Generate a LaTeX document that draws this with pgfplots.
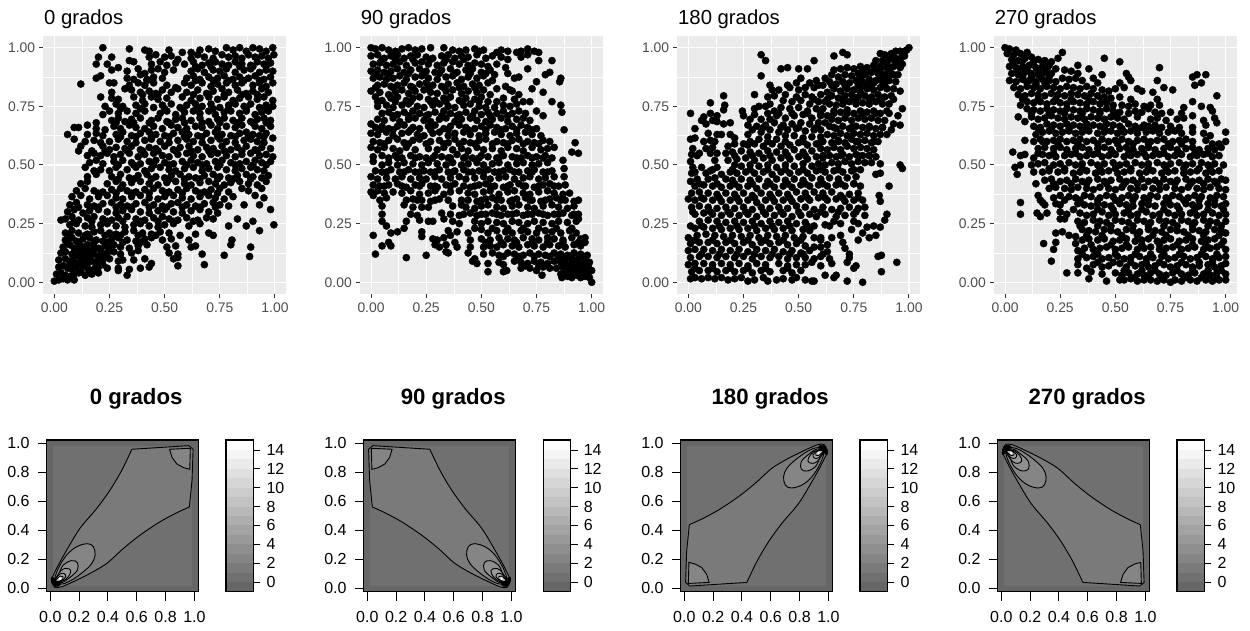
\documentclass[border=0pt]{standalone}
\usepackage{pgfplots}
\pgfplotsset{compat=1.18}
\usepackage{fontspec}
\setmainfont{Liberation Sans}
\definecolor{bgc}{HTML}{EBEBEB}
\definecolor{tk}{HTML}{333333}
\definecolor{lb}{HTML}{4D4D4D}
\definecolor{a0}{gray}{.40}\definecolor{a1}{gray}{.44}\definecolor{a2}{gray}{.48}\definecolor{a3}{gray}{.52}
\definecolor{a4}{gray}{.56}\definecolor{a5}{gray}{.60}\definecolor{a6}{gray}{.64}\definecolor{a7}{gray}{.68}
\definecolor{a8}{gray}{.72}\definecolor{a9}{gray}{.76}\definecolor{a10}{gray}{.80}\definecolor{a11}{gray}{.84}
\definecolor{a12}{gray}{.88}\definecolor{a13}{gray}{.92}\definecolor{a14}{gray}{.96}\definecolor{a15}{gray}{1}
\pgfplotsset{
 every axis title shift=0pt,
 top/.style={scale only axis,width=242.7pt,height=258pt,xmin=-.05,xmax=1.05,ymin=-.05,ymax=1.05,
  axis background/.style={fill=bgc},axis line style={draw=none},
  tick align=outside,tick pos=left,major tick length=4pt,tick style={color=tk,line width=1pt},
  grid=both,major grid style={white,line width=1.05pt},minor grid style={white,line width=.55pt},
  minor tick num=1,minor tick length=0pt,
  xtick={0,.25,.5,.75,1},ytick={0,.25,.5,.75,1},
  xticklabels={0.00,0.25,0.50,0.75,1.00},yticklabels={0.00,0.25,0.50,0.75,1.00},
  tick label style={font=\fontsize{13.9}{16}\selectfont,text=lb,inner sep=0pt},
  xticklabel style={yshift=-4.5pt},yticklabel style={xshift=-4pt},
  title style={at={(0,1)},anchor=base west,yshift=11.3pt,xshift=.7pt,inner sep=0pt,font=\fontsize{20.3}{24}\selectfont},
 },
 pts/.style={only marks,mark=*,mark size=3.6pt,black,mark options={draw=black,fill=black}},
 bot/.style={scale only axis,width=152pt,height=151.7pt,xmin=-.025,xmax=1.03,ymin=-.023,ymax=1.023,
  axis on top,axis line style={black,line width=1.1pt},
  tick align=outside,tick pos=left,major tick length=9pt,tick style={black,line width=.9pt},
  xtick={0,.2,.4,.6,.8,1},ytick={0,.2,.4,.6,.8,1},
  xticklabels={0.0,0.2,0.4,0.6,0.8,1.0},yticklabels={0.0,0.2,0.4,0.6,0.8,1.0},
  tick label style={font=\fontsize{16}{18}\selectfont,text=black,inner sep=0pt},
  xticklabel style={yshift=-10pt},yticklabel style={xshift=-8pt},
  title style={at={(.5,1)},anchor=base,yshift=35pt,xshift=13.5pt,inner sep=0pt,font=\fontsize{22.2}{26}\selectfont\bfseries},
 },
 cb/.style={scale only axis,width=27.3pt,height=151.7pt,xmin=0,xmax=1,ymin=-1.03,ymax=15.06,
  axis on top,axis line style={black,line width=1.1pt},
  tick align=outside,xtick=\empty,ytick={0,2,4,6,8,10,12,14},yticklabels={0,2,4,6,8,10,12,14},ytick pos=right,major tick length=7pt,tick style={black,line width=.9pt},
  tick label style={font=\fontsize{16}{18}\selectfont,text=black,inner sep=0pt},yticklabel style={xshift=6pt},
 },
 ct/.style={draw=black,line width=.9pt},
 sm/.style={draw=black,line width=.9pt,smooth,tension=.5},
 el/.style={draw=black,line width=.9pt,smooth cycle,tension=.6},
}
\newcommand{\cbar}[1]{\begin{axis}[cb,at={(#1pt,39.3pt)},anchor=south west]
\addplot[fill=a0,draw=none] coordinates {(0,-1.03)(1,-1.03)(1,0)(0,0)} --cycle;
\addplot[fill=a1,draw=none] coordinates {(0,0)(1,0)(1,1)(0,1)} --cycle;
\addplot[fill=a2,draw=none] coordinates {(0,1)(1,1)(1,2)(0,2)} --cycle;
\addplot[fill=a3,draw=none] coordinates {(0,2)(1,2)(1,3)(0,3)} --cycle;
\addplot[fill=a4,draw=none] coordinates {(0,3)(1,3)(1,4)(0,4)} --cycle;
\addplot[fill=a5,draw=none] coordinates {(0,4)(1,4)(1,5)(0,5)} --cycle;
\addplot[fill=a6,draw=none] coordinates {(0,5)(1,5)(1,6)(0,6)} --cycle;
\addplot[fill=a7,draw=none] coordinates {(0,6)(1,6)(1,7)(0,7)} --cycle;
\addplot[fill=a8,draw=none] coordinates {(0,7)(1,7)(1,8)(0,8)} --cycle;
\addplot[fill=a9,draw=none] coordinates {(0,8)(1,8)(1,9)(0,9)} --cycle;
\addplot[fill=a10,draw=none] coordinates {(0,9)(1,9)(1,10)(0,10)} --cycle;
\addplot[fill=a11,draw=none] coordinates {(0,10)(1,10)(1,11)(0,11)} --cycle;
\addplot[fill=a12,draw=none] coordinates {(0,11)(1,11)(1,12)(0,12)} --cycle;
\addplot[fill=a13,draw=none] coordinates {(0,12)(1,12)(1,13)(0,13)} --cycle;
\addplot[fill=a14,draw=none] coordinates {(0,13)(1,13)(1,14)(0,14)} --cycle;
\addplot[fill=a15,draw=none] coordinates {(0,14)(1,14)(1,15.06)(0,15.06)} --cycle;
\end{axis}}
\newcommand{\bgs}{
\addplot[fill=a0,draw=none] coordinates {(-.03,-.03)(1.04,-.03)(1.04,1.03)(-.03,1.03)} --cycle;
\addplot[fill=a1,draw=none] coordinates {(.016,.016)(.984,.016)(.984,.984)(.016,.984)} --cycle;
}
\begin{document}
\begin{tikzpicture}[x=1pt,y=1pt]
\path[use as bounding box] (0,0) rectangle (1250,631);
\begin{axis}[top,at={(43.3pt,337pt)},anchor=south west,title={0 grados}]
\addplot[pts] table {
.22 1
.34 .995
.41 .99
.43 .985
.52 .99
.58 .98
.62 .98
.66 .99
.70 .995
.73 .985
.78 1
.81 .99
.84 1
.87 .985
.90 1
.93 .995
.96 .985
.99 1
.43 .96
.46 .97
.50 .96
.53 .965
.56 .95
.62 .955
.65 .97
.68 .96
.72 .955
.76 .97
.79 .96
.82 .965
.85 .955
.88 .97
.91 .96
.94 .965
.97 .955
.995 .97
.26 .96
.20 .96
.19 .93
.24 .93
.34 .945
.36 .94
.44 .93
.48 .94
.51 .925
.55 .935
.59 .93
.63 .94
.67 .925
.70 .935
.73 .94
.76 .93
.79 .925
.82 .94
.85 .93
.89 .925
.92 .94
.95 .93
.98 .935
.29 .915
.26 .905
.33 .90
.38 .91
.41 .89
.44 .905
.47 .91
.50 .895
.54 .905
.62 .90
.65 .91
.68 .895
.72 .905
.75 .90
.78 .91
.82 .895
.86 .905
.89 .91
.93 .895
.96 .905
.99 .90
.19 .87
.21 .88
.33 .87
.36 .865
.39 .885
.42 .865
.45 .875
.49 .87
.60 .87
.63 .88
.66 .865
.70 .875
.74 .87
.77 .88
.81 .865
.84 .875
.88 .87
.91 .88
.95 .865
.98 .875
.12 .845
.25 .85
.27 .85
.34 .84
.38 .85
.41 .84
.45 .85
.51 .84
.55 .83
.59 .85
.62 .84
.67 .85
.71 .835
.74 .845
.78 .85
.82 .84
.85 .85
.90 .84
.93 .85
.96 .835
.99 .85
.26 .81
.32 .825
.35 .82
.39 .81
.43 .815
.46 .805
.49 .82
.53 .81
.56 .825
.60 .81
.65 .82
.69 .805
.72 .815
.76 .825
.79 .81
.83 .82
.87 .805
.90 .815
.94 .825
.97 .81
.21 .79
.26 .785
.29 .78
.36 .79
.40 .775
.44 .79
.47 .78
.51 .785
.58 .79
.62 .775
.66 .785
.70 .79
.74 .78
.77 .79
.81 .775
.84 .785
.88 .79
.92 .78
.95 .79
.99 .775
.23 .75
.28 .76
.31 .75
.37 .755
.41 .76
.45 .745
.49 .755
.53 .76
.57 .745
.60 .755
.64 .76
.67 .75
.71 .76
.75 .745
.79 .755
.82 .76
.86 .75
.89 .76
.93 .745
.96 .755
.99 .75
.22 .715
.25 .73
.29 .72
.33 .73
.37 .72
.41 .73
.48 .72
.51 .73
.55 .715
.59 .725
.63 .73
.66 .72
.70 .73
.73 .715
.77 .725
.80 .73
.84 .72
.87 .73
.91 .715
.94 .725
.97 .73
.15 .67
.19 .68
.26 .69
.29 .70
.32 .685
.35 .695
.39 .70
.44 .69
.47 .70
.51 .685
.55 .695
.58 .70
.62 .69
.66 .70
.70 .685
.74 .695
.77 .70
.81 .69
.85 .70
.89 .685
.92 .695
.95 .70
.98 .69
.09 .66
.11 .66
.19 .655
.23 .65
.27 .665
.30 .655
.34 .67
.37 .66
.41 .655
.45 .665
.49 .655
.53 .67
.56 .66
.60 .655
.64 .665
.67 .66
.71 .67
.74 .655
.78 .665
.82 .66
.85 .67
.91 .665
.94 .655
.98 .665
.06 .63
.15 .63
.19 .635
.22 .625
.28 .63
.31 .64
.35 .625
.39 .635
.43 .64
.46 .63
.50 .625
.54 .635
.58 .64
.61 .63
.65 .625
.69 .635
.73 .64
.76 .63
.80 .625
.84 .635
.87 .64
.90 .63
.93 .625
.96 .635
.99 .615
.09 .61
.14 .60
.18 .605
.21 .595
.25 .60
.29 .61
.33 .60
.37 .595
.41 .605
.44 .61
.48 .60
.52 .595
.56 .605
.60 .61
.63 .60
.67 .595
.71 .605
.75 .61
.78 .60
.82 .595
.86 .605
.89 .61
.92 .60
.95 .595
.12 .58
.17 .56
.22 .58
.25 .565
.28 .575
.32 .57
.35 .58
.39 .565
.43 .575
.46 .57
.50 .58
.54 .565
.57 .575
.61 .58
.65 .565
.69 .575
.72 .57
.76 .58
.80 .565
.83 .575
.87 .58
.91 .565
.94 .575
.98 .57
.11 .56
.15 .54
.18 .55
.21 .54
.24 .55
.27 .535
.30 .545
.34 .55
.38 .535
.41 .545
.45 .55
.49 .54
.52 .535
.56 .545
.60 .55
.63 .54
.67 .535
.71 .545
.74 .55
.78 .54
.82 .535
.85 .545
.89 .55
.93 .54
.96 .545
.99 .535
.16 .51
.19 .52
.22 .505
.27 .515
.31 .52
.35 .51
.39 .505
.43 .515
.46 .52
.50 .51
.54 .505
.58 .515
.62 .52
.65 .51
.69 .505
.73 .515
.76 .52
.80 .51
.84 .505
.87 .515
.91 .52
.94 .51
.98 .515
.14 .49
.18 .475
.21 .48
.25 .475
.28 .49
.33 .48
.37 .49
.41 .475
.44 .485
.48 .49
.52 .48
.55 .475
.59 .485
.63 .49
.67 .475
.70 .485
.74 .49
.78 .48
.82 .475
.85 .485
.89 .49
.92 .48
.95 .475
.15 .45
.19 .46
.26 .45
.30 .46
.34 .445
.38 .455
.42 .46
.46 .45
.50 .445
.53 .455
.57 .46
.61 .45
.64 .445
.68 .455
.72 .46
.75 .45
.79 .445
.83 .455
.87 .46
.90 .45
.94 .445
.97 .455
.12 .42
.15 .43
.24 .42
.28 .43
.31 .415
.35 .425
.39 .43
.43 .42
.47 .415
.51 .425
.55 .43
.59 .42
.62 .415
.66 .425
.70 .43
.73 .42
.77 .415
.80 .425
.84 .43
.88 .42
.92 .415
.96 .43
.10 .39
.14 .40
.18 .39
.22 .385
.26 .395
.30 .40
.33 .39
.37 .385
.41 .395
.45 .40
.49 .39
.52 .385
.56 .395
.60 .40
.64 .39
.68 .385
.71 .395
.75 .40
.79 .385
.85 .40
.88 .39
.94 .40
.08 .365
.12 .37
.16 .355
.20 .365
.24 .37
.28 .36
.31 .355
.35 .365
.39 .37
.43 .36
.47 .355
.50 .365
.54 .37
.58 .36
.62 .355
.66 .365
.70 .37
.73 .36
.77 .355
.81 .365
.91 .37
.95 .36
.07 .33
.10 .34
.15 .33
.18 .325
.22 .335
.26 .34
.30 .33
.33 .325
.37 .335
.41 .34
.45 .33
.49 .325
.53 .335
.56 .34
.60 .33
.64 .325
.68 .335
.72 .34
.75 .33
.79 .325
.86 .33
.93 .33
.06 .30
.09 .31
.13 .295
.16 .305
.20 .31
.24 .30
.28 .295
.31 .305
.35 .31
.39 .30
.43 .295
.47 .305
.50 .31
.54 .30
.58 .295
.62 .305
.66 .31
.70 .30
.74 .295
.98 .31
.03 .265
.05 .27
.08 .28
.11 .265
.15 .275
.18 .28
.22 .27
.26 .265
.29 .275
.33 .28
.37 .27
.41 .265
.45 .275
.49 .28
.52 .27
.56 .265
.60 .275
.65 .265
.69 .275
.72 .27
.83 .27
.07 .245
.10 .25
.14 .24
.17 .235
.21 .245
.24 .25
.28 .24
.32 .235
.36 .245
.39 .25
.43 .24
.47 .235
.50 .245
.54 .25
.61 .24
.66 .25
.79 .24
.87 .24
.90 .26
.995 .245
.05 .21
.08 .22
.11 .21
.15 .205
.18 .215
.21 .22
.25 .21
.28 .205
.32 .215
.36 .22
.40 .21
.44 .205
.48 .215
.52 .21
.57 .20
.64 .205
.70 .21
.72 .20
.93 .22
.05 .18
.08 .19
.10 .175
.13 .185
.16 .19
.19 .18
.22 .175
.26 .185
.29 .19
.33 .18
.37 .175
.41 .185
.44 .19
.49 .18
.53 .185
.61 .18
.805 .18
.04 .15
.07 .16
.09 .145
.12 .155
.15 .16
.18 .15
.20 .145
.23 .155
.27 .16
.30 .15
.34 .145
.38 .155
.42 .16
.51 .15
.55 .155
.62 .15
.64 .155
.89 .15
.80 .16
.03 .125
.05 .13
.08 .12
.10 .115
.13 .125
.15 .13
.18 .12
.21 .115
.24 .125
.27 .13
.30 .12
.35 .125
.38 .135
.52 .125
.56 .12
.67 .12
.02 .095
.05 .10
.07 .09
.09 .085
.12 .095
.14 .10
.17 .09
.19 .085
.22 .095
.25 .10
.29 .09
.31 .095
.36 .095
.41 .10
.54 .10
.56 .105
.885 .11
.77 .115
.02 .065
.04 .07
.06 .06
.08 .055
.10 .065
.13 .07
.15 .06
.18 .055
.20 .065
.24 .06
.29 .06
.39 .06
.44 .08
.43 .065
.56 .07
.68 .075
.01 .035
.03 .04
.05 .03
.07 .025
.09 .035
.11 .04
.14 .03
.17 .035
.20 .04
.33 .03
.29 .05
.34 .055
0 .005
.02 .01
.04 .015
.06 .01
.09 .01
.07 .075
.11 .08
.15 .08
.19 .07
.22 .075
.09 .11
.12 .11
.16 .11
.20 .105
.23 .11
.11 .14
.14 .145
.17 .135
.21 .135
.25 .145
.12 .045
.16 .05
.64 .92
.71 .92
.78 .92
.84 .92
.90 .92
.96 .92
.42 .86
.64 .86
.72 .86
.79 .86
.86 .86
.93 .86
.40 .80
.47 .80
.63 .80
.70 .80
.77 .80
.85 .80
.92 .80
.30 .74
.39 .74
.50 .74
.58 .74
.65 .74
.72 .74
.79 .74
.87 .74
.94 .74
.28 .68
.36 .68
.43 .68
.52 .68
.59 .68
.67 .68
.75 .68
.83 .68
.90 .68
.96 .68
.30 .62
.37 .62
.44 .62
.52 .62
.59 .62
.67 .62
.74 .62
.82 .62
.88 .62
.95 .62
.23 .56
.33 .56
.40 .56
.47 .56
.55 .56
.62 .56
.70 .56
.77 .56
.85 .56
.92 .56
.29 .50
.36 .50
.45 .50
.52 .50
.60 .50
.67 .50
.75 .50
.82 .50
.90 .50
.96 .50
.29 .44
.36 .44
.44 .44
.52 .44
.59 .44
.66 .44
.74 .44
.81 .44
.89 .44
.20 .38
.28 .38
.35 .38
.43 .38
.51 .38
.58 .38
.66 .38
.74 .38
.11 .32
.20 .32
.28 .32
.35 .32
.43 .32
.51 .32
.58 .32
.66 .32
.73 .32
.09 .26
.17 .26
.24 .26
.31 .26
.39 .26
.47 .26
.54 .26
.63 .26
.07 .20
.14 .20
.23 .20
.30 .20
.38 .20
.46 .20
.06 .17
.11 .17
.18 .17
.24 .17
.31 .17
.39 .17
};
\end{axis}
\begin{axis}[top,at={(360pt,337pt)},anchor=south west,title={90 grados}]
\addplot[pts] table {
0 1
.02 .995
.05 1
.08 .99
.11 .985
.14 .995
.17 1
.20 .99
.23 .995
.27 1
.33 1
.37 .99
.40 .985
.43 .99
.47 .995
.49 .985
.51 .99
.57 .98
.59 .99
.62 .985
.66 .98
.68 .985
.71 .995
.74 .985
.76 .98
0 .965
.03 .97
.06 .955
.09 .965
.12 .97
.15 .955
.18 .965
.21 .97
.25 .96
.28 .955
.32 .965
.35 .97
.38 .955
.41 .965
.44 .96
.48 .97
.52 .955
.55 .965
.59 .96
.62 .95
.68 .96
.71 .97
.76 .945
.82 .945
.01 .93
.04 .935
.07 .925
.10 .93
.13 .94
.16 .925
.20 .935
.23 .94
.26 .93
.30 .925
.33 .935
.37 .94
.40 .93
.44 .925
.47 .935
.50 .93
.53 .92
.57 .93
.61 .915
.71 .91
.81 .895
.79 .885
0 .90
.03 .905
.06 .895
.09 .90
.12 .91
.15 .895
.18 .905
.22 .91
.25 .90
.29 .895
.32 .905
.36 .91
.39 .895
.43 .905
.46 .91
.50 .895
.54 .905
.56 .885
.62 .89
.65 .87
.67 .875
.86 .87
.855 .855
.01 .87
.04 .875
.07 .865
.10 .87
.13 .88
.16 .865
.20 .875
.23 .88
.26 .87
.30 .865
.34 .875
.37 .88
.41 .865
.44 .875
.48 .87
.51 .88
.55 .86
.75 .855
.03 .84
.06 .845
.09 .835
.12 .84
.15 .85
.18 .835
.22 .845
.25 .85
.28 .84
.32 .835
.35 .845
.39 .85
.42 .835
.46 .845
.49 .84
.53 .85
.57 .825
.61 .835
.63 .82
.73 .825
.78 .81
0 .815
.04 .81
.08 .80
.11 .81
.14 .82
.17 .805
.20 .815
.24 .82
.27 .81
.30 .805
.34 .815
.37 .82
.41 .805
.44 .815
.48 .81
.51 .82
.54 .80
.60 .785
.64 .815
.67 .80
.02 .79
.05 .775
.09 .785
.12 .79
.16 .775
.19 .785
.22 .79
.26 .78
.29 .775
.33 .785
.36 .79
.40 .775
.43 .785
.47 .78
.50 .79
.53 .77
.57 .77
.65 .78
.82 .77
.03 .75
.07 .755
.10 .745
.14 .755
.17 .76
.21 .75
.24 .745
.28 .755
.31 .76
.35 .75
.38 .745
.42 .755
.45 .76
.49 .75
.52 .745
.56 .745
.60 .755
.63 .75
.66 .76
.69 .77
.72 .77
.86 .755
.05 .72
.08 .725
.12 .715
.15 .725
.19 .73
.22 .72
.26 .715
.29 .725
.33 .73
.36 .72
.40 .715
.43 .725
.47 .73
.50 .715
.53 .725
.57 .72
.60 .73
.64 .72
.67 .73
.70 .72
.75 .73
.865 .725
.03 .695
.06 .69
.10 .70
.13 .685
.17 .695
.20 .70
.24 .69
.27 .685
.31 .695
.34 .70
.38 .685
.41 .695
.45 .70
.48 .69
.52 .685
.55 .695
.59 .70
.62 .685
.66 .695
.69 .70
.72 .69
.78 .71
0 .675
.02 .66
.05 .665
.08 .655
.12 .665
.15 .67
.19 .66
.22 .655
.26 .665
.29 .67
.33 .655
.36 .665
.40 .67
.43 .66
.47 .655
.50 .665
.54 .67
.57 .66
.61 .655
.64 .665
.68 .67
.71 .66
.75 .655
.875 .65
0 .635
.03 .63
.07 .64
.10 .625
.14 .635
.17 .64
.21 .63
.24 .625
.28 .635
.31 .64
.35 .625
.38 .635
.42 .64
.45 .63
.49 .625
.52 .635
.56 .64
.59 .63
.63 .625
.66 .635
.70 .64
.73 .63
.77 .625
.01 .60
.04 .595
.08 .605
.12 .61
.15 .595
.19 .605
.22 .61
.27 .60
.31 .605
.35 .595
.38 .61
.42 .60
.45 .595
.49 .605
.52 .61
.57 .60
.60 .595
.64 .605
.67 .61
.71 .60
.74 .595
.78 .605
.81 .60
.925 .595
.0 .575
.03 .565
.06 .575
.10 .57
.13 .56
.16 .575
.20 .565
.26 .57
.30 .565
.33 .575
.37 .565
.41 .57
.44 .56
.48 .575
.51 .565
.55 .57
.59 .56
.62 .575
.66 .57
.69 .56
.73 .575
.77 .565
.80 .57
.83 .575
.01 .535
.05 .54
.08 .53
.11 .54
.14 .53
.18 .54
.22 .535
.25 .53
.29 .54
.32 .535
.36 .53
.39 .545
.43 .535
.46 .53
.50 .54
.53 .535
.57 .53
.60 .54
.64 .535
.68 .53
.71 .54
.75 .535
.79 .54
.82 .53
.91 .555
.94 .55
.01 .515
.05 .50
.08 .51
.12 .50
.15 .51
.19 .505
.23 .50
.26 .51
.30 .505
.34 .50
.37 .51
.41 .50
.44 .505
.48 .51
.51 .50
.55 .505
.58 .51
.62 .50
.66 .505
.69 .51
.73 .50
.76 .505
.80 .51
.87 .52
.02 .475
.05 .47
.09 .48
.13 .47
.17 .48
.20 .47
.24 .475
.27 .47
.31 .48
.35 .47
.38 .475
.42 .48
.46 .47
.49 .475
.53 .48
.56 .47
.60 .475
.63 .48
.67 .47
.71 .475
.74 .48
.78 .47
.82 .475
.875 .485
0 .45
.03 .44
.07 .445
.11 .44
.14 .45
.18 .44
.22 .445
.25 .44
.29 .45
.32 .44
.36 .445
.40 .45
.43 .44
.47 .445
.51 .45
.54 .44
.58 .445
.61 .45
.65 .44
.69 .445
.72 .45
.76 .44
.79 .445
.83 .45
.875 .45
.01 .415
.04 .41
.08 .415
.12 .42
.16 .405
.20 .415
.23 .42
.27 .41
.30 .405
.34 .415
.38 .42
.42 .41
.45 .405
.49 .415
.52 .42
.56 .41
.60 .405
.63 .415
.67 .42
.70 .41
.74 .405
.78 .415
.81 .42
.85 .41
.88 .415
0 .385
.03 .39
.06 .38
.10 .385
.14 .38
.18 .39
.22 .375
.26 .38
.29 .39
.33 .375
.36 .385
.40 .39
.44 .38
.47 .375
.51 .385
.54 .39
.58 .375
.62 .385
.65 .39
.69 .38
.72 .375
.76 .385
.80 .39
.83 .38
.87 .375
.90 .38
.01 .37
.04 .35
.07 .36
.16 .35
.19 .355
.23 .35
.27 .345
.31 .355
.35 .35
.44 .35
.48 .345
.52 .355
.55 .36
.59 .35
.63 .345
.66 .355
.70 .36
.73 .35
.77 .345
.81 .355
.84 .36
.88 .35
.92 .345
.94 .35
.05 .325
.15 .33
.19 .32
.23 .32
.26 .32
.37 .325
.41 .33
.43 .32
.47 .315
.50 .325
.53 .33
.57 .32
.60 .315
.64 .325
.67 .33
.71 .32
.74 .315
.78 .325
.82 .33
.85 .32
.89 .315
.92 .325
.05 .29
.18 .29
.21 .285
.32 .295
.36 .29
.40 .285
.45 .295
.48 .285
.52 .29
.55 .295
.59 .285
.62 .29
.66 .295
.69 .285
.73 .29
.76 .295
.80 .285
.83 .29
.87 .295
.91 .285
.94 .29
.05 .26
.07 .24
.16 .26
.22 .265
.26 .26
.28 .26
.33 .27
.37 .26
.40 .25
.47 .26
.50 .25
.53 .26
.57 .255
.60 .25
.64 .26
.67 .255
.71 .25
.74 .26
.78 .255
.82 .25
.85 .26
.89 .255
.93 .26
.94 .27
.09 .21
.12 .215
.15 .23
.23 .215
.23 .195
.35 .22
.39 .215
.44 .21
.50 .225
.53 .21
.57 .22
.61 .215
.64 .21
.68 .22
.71 .215
.75 .21
.79 .22
.82 .215
.86 .21
.90 .22
.93 .21
.01 .20
.28 .185
.30 .18
.33 .19
.36 .20
.45 .18
.50 .185
.54 .18
.58 .19
.62 .185
.65 .18
.69 .19
.73 .185
.76 .18
.80 .19
.83 .185
.87 .18
.91 .19
.95 .185
.97 .19
.05 .155
.08 .17
.09 .155
.29 .16
.31 .15
.34 .16
.38 .17
.39 .15
.45 .15
.51 .15
.54 .155
.57 .15
.60 .16
.64 .155
.67 .15
.71 .16
.74 .155
.78 .15
.81 .16
.85 .155
.88 .15
.92 .16
.95 .155
.97 .17
.02 .12
.16 .105
.25 .115
.34 .13
.35 .125
.44 .125
.47 .10
.51 .12
.55 .125
.58 .115
.62 .125
.65 .12
.69 .115
.72 .125
.76 .12
.79 .115
.83 .125
.86 .12
.89 .115
.92 .125
.95 .12
.98 .115
.46 .09
.48 .08
.53 .08
.58 .085
.60 .075
.65 .09
.68 .085
.71 .08
.74 .09
.77 .085
.80 .08
.83 .09
.86 .085
.88 .08
.91 .09
.94 .085
.97 .08
.99 .085
.53 .045
.60 .045
.615 .05
.68 .06
.72 .06
.75 .05
.775 .03
.86 .035
.88 .05
.90 .045
.92 .055
.94 .05
.96 .045
.98 .05
1 .05
.865 .02
.89 .025
.91 .02
.93 .03
.95 .02
.97 .025
.99 .02
1 0
.84 .06
.87 .065
.90 .07
.93 .07
.96 .065
.985 .065
.81 .06
.78 .065
.94 .10
.97 .10
.91 .105
.88 .10
.96 .035
.93 .04
.98 .035
.05 .95
.11 .95
.19 .95
.27 .95
.34 .95
.42 .95
.02 .89
.08 .89
.17 .89
.24 .89
.31 .89
.38 .89
.45 .89
.52 .89
.02 .83
.10 .83
.19 .83
.26 .83
.33 .83
.40 .83
.47 .83
.03 .77
.11 .77
.18 .77
.27 .77
.34 .77
.41 .77
.49 .77
.10 .71
.17 .71
.25 .71
.32 .71
.39 .71
.46 .71
.54 .71
.62 .71
.04 .65
.10 .65
.18 .65
.27 .65
.35 .65
.44 .65
.52 .65
.59 .65
.66 .65
.73 .65
.06 .59
.17 .59
.25 .59
.33 .59
.40 .59
.47 .59
.55 .59
.62 .59
.69 .59
.76 .59
.12 .53
.20 .53
.28 .53
.35 .53
.42 .53
.49 .53
.58 .53
.66 .53
.73 .53
.78 .53
.07 .47
.15 .47
.22 .47
.29 .47
.37 .47
.44 .47
.51 .47
.58 .47
.65 .47
.73 .47
.80 .47
.06 .41
.14 .41
.22 .41
.29 .41
.36 .41
.47 .41
.54 .41
.62 .41
.69 .41
.76 .41
.83 .41
.21 .35
.29 .35
.41 .35
.50 .35
.57 .35
.64 .35
.72 .35
.79 .35
.86 .35
.42 .29
.50 .29
.57 .29
.64 .29
.71 .29
.78 .29
.85 .29
.92 .29
.47 .23
.55 .23
.62 .23
.69 .23
.76 .23
.84 .23
.91 .23
.52 .17
.59 .17
.66 .17
.73 .17
.80 .17
.87 .17
.94 .17
.60 .11
.67 .11
.74 .11
.81 .11
.85 .11
.90 .11
.96 .11
.70 .07
.76 .07
};
\end{axis}
\begin{axis}[top,at={(677.3pt,337pt)},anchor=south west,title={180 grados}]
\addplot[pts] table {
1 1
.98 .985
.99 .99
.96 .985
.94 .985
.92 .975
.89 .97
.87 .975
.97 .965
.94 .955
.91 .95
.88 .945
.85 .945
.95 .935
.98 .965
.70 .98
.72 .97
.66 .965
.33 .97
.35 .945
.57 .945
.96 .915
.93 .92
.90 .915
.87 .92
.84 .925
.81 .915
.78 .92
.75 .91
.72 .915
.69 .91
.66 .905
.50 .91
.54 .91
.42 .91
.45 .915
.33 .88
.95 .885
.92 .89
.89 .885
.86 .89
.83 .895
.80 .885
.77 .89
.74 .88
.71 .885
.68 .875
.65 .885
.62 .87
.58 .86
.55 .85
.51 .87
.49 .85
.94 .855
.91 .86
.88 .855
.85 .86
.82 .865
.79 .855
.76 .86
.73 .85
.70 .855
.67 .845
.64 .855
.61 .84
.57 .83
.53 .83
.50 .82
.45 .84
.46 .83
.37 .84
.38 .82
.41 .82
.96 .815
.93 .825
.90 .825
.87 .83
.84 .82
.81 .825
.78 .83
.75 .82
.72 .825
.69 .815
.66 .825
.63 .81
.60 .80
.56 .79
.53 .80
.49 .79
.44 .80
.39 .795
.36 .79
.30 .80
.16 .795
.92 .795
.89 .79
.86 .80
.83 .79
.80 .795
.77 .79
.74 .80
.71 .795
.68 .785
.65 .795
.62 .77
.59 .77
.55 .76
.51 .775
.47 .77
.43 .775
.37 .76
.35 .75
.32 .75
.165 .755
.16 .735
.10 .765
.97 .74
.91 .76
.88 .76
.85 .77
.82 .76
.79 .765
.76 .76
.73 .77
.70 .76
.67 .755
.64 .76
.61 .74
.58 .74
.54 .73
.50 .745
.46 .74
.42 .745
.39 .73
.36 .72
.30 .74
.245 .73
.25 .71
.30 .715
.01 .72
.95 .71
.90 .73
.87 .72
.84 .73
.81 .725
.78 .73
.75 .72
.72 .735
.69 .725
.66 .73
.63 .71
.60 .71
.56 .70
.52 .715
.48 .71
.44 .70
.40 .71
.37 .695
.33 .695
.28 .695
.13 .71
.10 .72
.07 .705
.06 .69
.93 .675
.96 .67
.89 .69
.86 .69
.83 .70
.80 .695
.77 .70
.74 .69
.71 .70
.68 .69
.65 .695
.62 .68
.59 .68
.55 .675
.51 .68
.47 .675
.43 .67
.39 .68
.35 .67
.31 .665
.27 .67
.19 .68
.16 .675
.13 .685
.11 .69
.08 .675
.03 .655
.92 .65
.88 .66
.85 .655
.82 .665
.79 .66
.76 .665
.73 .655
.70 .665
.67 .655
.64 .665
.60 .65
.57 .65
.53 .645
.49 .655
.45 .65
.41 .64
.37 .65
.33 .64
.29 .65
.27 .63
.09 .635
.13 .63
.15 .63
.90 .63
.87 .63
.84 .625
.81 .635
.78 .63
.75 .635
.72 .625
.69 .635
.66 .625
.63 .63
.60 .62
.56 .62
.52 .615
.48 .625
.44 .625
.40 .61
.36 .62
.32 .61
.19 .63
.21 .615
.01 .61
.03 .615
.07 .60
.10 .605
.12 .60
.86 .60
.83 .595
.80 .605
.77 .60
.74 .61
.71 .595
.68 .605
.65 .595
.61 .60
.58 .59
.54 .585
.50 .595
.46 .585
.42 .58
.38 .59
.34 .58
.30 .59
.27 .585
.25 .59
.21 .59
.18 .58
.08 .57
.11 .575
.02 .57
.84 .565
.81 .57
.78 .575
.75 .57
.72 .58
.69 .565
.66 .575
.63 .565
.60 .57
.56 .56
.52 .555
.48 .565
.44 .555
.40 .555
.36 .56
.32 .55
.28 .555
.24 .56
.20 .555
.17 .55
.13 .55
.10 .55
.04 .54
.015 .545
.01 .515
.05 .55
.85 .535
.82 .54
.79 .54
.76 .545
.73 .535
.70 .545
.67 .535
.64 .54
.61 .53
.58 .535
.54 .525
.50 .535
.46 .525
.42 .53
.38 .52
.34 .53
.30 .52
.26 .53
.22 .525
.18 .52
.12 .52
.02 .49
.06 .49
.10 .475
.13 .49
.87 .505
.83 .51
.80 .51
.77 .515
.74 .505
.71 .515
.68 .505
.65 .51
.62 .50
.59 .505
.56 .495
.52 .505
.48 .495
.44 .50
.40 .49
.36 .50
.32 .495
.28 .50
.24 .495
.21 .50
.96 .50
.97 .485
.015 .465
.03 .47
.08 .465
.15 .46
.19 .47
.22 .465
.26 .47
.30 .465
.34 .47
.38 .46
.42 .47
.46 .465
.50 .47
.54 .465
.58 .475
.62 .47
.66 .475
.70 .47
.74 .475
.78 .48
.85 .46
.87 .465
.01 .43
.04 .44
.09 .44
.12 .445
.17 .44
.20 .435
.24 .44
.28 .435
.32 .44
.36 .43
.40 .44
.44 .435
.48 .44
.52 .435
.56 .445
.60 .44
.64 .445
.68 .44
.72 .445
.76 .45
.03 .41
.07 .415
.11 .41
.15 .405
.19 .41
.23 .405
.27 .41
.31 .40
.35 .41
.39 .405
.43 .41
.47 .405
.51 .415
.55 .41
.59 .415
.63 .41
.67 .415
.71 .41
.75 .42
.78 .41
.91 .41
.015 .38
.05 .385
.09 .38
.13 .375
.17 .38
.21 .375
.25 .38
.29 .37
.33 .38
.37 .375
.41 .38
.45 .375
.49 .385
.53 .38
.57 .385
.61 .38
.65 .385
.69 .37
.73 .375
.77 .38
0 .355
.03 .35
.07 .355
.11 .35
.15 .345
.19 .35
.23 .345
.27 .35
.31 .34
.35 .35
.39 .345
.43 .35
.47 .345
.51 .355
.55 .35
.59 .36
.63 .35
.67 .355
.71 .345
.75 .35
.79 .35
.865 .37
.87 .345
.015 .32
.05 .325
.09 .32
.13 .315
.17 .32
.21 .315
.25 .32
.29 .31
.33 .32
.37 .315
.41 .32
.45 .315
.49 .325
.53 .32
.57 .31
.61 .32
.65 .31
.69 .315
.73 .32
.77 .315
.80 .32
.03 .29
.07 .295
.11 .29
.15 .285
.19 .29
.23 .285
.27 .29
.31 .28
.35 .29
.39 .285
.43 .29
.47 .28
.51 .285
.55 .29
.58 .28
.62 .29
.67 .28
.71 .285
.75 .29
.80 .285
.90 .29
.01 .24
.05 .26
.09 .265
.13 .26
.17 .255
.21 .26
.25 .255
.29 .26
.33 .25
.37 .26
.41 .255
.45 .26
.49 .25
.53 .255
.57 .24
.62 .245
.66 .26
.69 .25
.75 .26
.77 .25
.89 .265
.03 .23
.07 .235
.11 .23
.15 .225
.19 .23
.23 .225
.27 .23
.31 .22
.35 .23
.39 .225
.43 .23
.47 .22
.52 .225
.55 .22
.74 .225
.81 .235
.84 .24
.87 .235
0 .19
.04 .20
.08 .205
.12 .20
.16 .195
.20 .20
.24 .195
.28 .20
.32 .19
.36 .20
.40 .195
.44 .20
.48 .19
.52 .195
.57 .19
.60 .19
.65 .19
.69 .20
.77 .18
.79 .21
.82 .19
.85 .20
.01 .165
.05 .17
.09 .17
.13 .165
.17 .17
.21 .165
.25 .17
.29 .16
.33 .17
.37 .165
.41 .17
.45 .16
.49 .165
.53 .155
.57 .15
.60 .15
.63 .16
.70 .17
.71 .145
0 .135
.03 .14
.07 .14
.11 .135
.15 .14
.19 .135
.23 .14
.27 .13
.31 .14
.35 .135
.39 .14
.43 .13
.47 .135
.51 .125
.55 .135
.63 .13
.73 .12
.01 .105
.05 .11
.09 .11
.13 .105
.17 .11
.21 .105
.25 .11
.29 .10
.33 .11
.37 .105
.41 .11
.45 .10
.49 .105
.53 .105
.57 .10
.60 .11
.64 .10
.73 .105
.86 .11
.875 .115
0 .075
.03 .08
.07 .08
.11 .075
.15 .08
.19 .075
.23 .08
.27 .07
.31 .08
.35 .075
.41 .08
.45 .07
.49 .075
.53 .075
.56 .085
.60 .07
.65 .08
.72 .085
.945 .085
.015 .045
.05 .05
.09 .05
.13 .045
.17 .05
.21 .045
.25 .05
.29 .04
.33 .05
.37 .045
.43 .05
.47 .04
.51 .05
.62 .03
.67 .03
.75 .06
.76 .07
.875 .045
.01 .015
.03 .02
.06 .015
.09 .02
.12 .015
.15 .02
.18 .01
.21 .015
.24 .02
.27 .005
.30 .01
.34 .02
.36 .005
.40 .01
.43 .015
.47 .01
.49 .02
.53 .01
.56 .005
.57 .005
.66 .02
.72 .005
.79 0
.96 .95
.93 .95
.90 .93
.87 .905
.84 .90
.81 .895
.78 .875
.97 .93
.93 .885
.90 .87
.87 .87
.84 .85
.81 .84
.78 .81
.75 .79
.79 .90
.85 .90
.91 .90
.59 .84
.65 .84
.71 .84
.77 .84
.83 .84
.89 .84
.57 .78
.63 .78
.70 .78
.76 .78
.82 .78
.87 .78
.93 .78
.41 .72
.47 .72
.54 .72
.60 .72
.66 .72
.72 .72
.79 .72
.85 .72
.91 .72
.34 .66
.42 .66
.50 .66
.58 .66
.66 .66
.74 .66
.82 .66
.88 .66
.28 .60
.36 .60
.44 .60
.52 .60
.60 .60
.68 .60
.76 .60
.84 .60
.21 .54
.29 .54
.37 .54
.45 .54
.53 .54
.61 .54
.69 .54
.77 .54
.82 .54
.11 .48
.20 .48
.28 .48
.36 .48
.44 .48
.52 .48
.60 .48
.68 .48
.75 .48
.05 .42
.13 .42
.21 .42
.29 .42
.37 .42
.45 .42
.53 .42
.61 .42
.69 .42
.75 .42
.06 .36
.14 .36
.22 .36
.30 .36
.38 .36
.46 .36
.54 .36
.62 .36
.70 .36
.77 .36
.02 .30
.10 .30
.18 .30
.26 .30
.34 .30
.42 .30
.50 .30
.60 .30
.68 .30
.76 .30
.06 .24
.14 .24
.22 .24
.30 .24
.38 .24
.46 .24
.54 .24
.64 .24
.03 .18
.11 .18
.19 .18
.27 .18
.35 .18
.43 .18
.51 .18
.60 .18
.06 .12
.14 .12
.22 .12
.30 .12
.38 .12
.46 .12
.52 .12
.61 .12
.03 .06
.11 .06
.19 .06
.27 .06
.35 .06
.45 .06
};
\end{axis}
\begin{axis}[top,at={(994pt,337pt)},anchor=south west,title={270 grados}]
\addplot[pts] table {
0 1
.02 .995
.05 .99
.01 .975
.04 .97
.07 .975
.10 .98
.26 .98
.03 .95
.06 .945
.09 .955
.12 .96
.15 .95
.18 .945
.21 .94
.24 .955
.02 .92
.05 .915
.08 .92
.11 .925
.14 .915
.17 .92
.20 .925
.23 .91
.45 .955
.52 .94
.33 .925
.70 .915
.03 .89
.06 .885
.09 .895
.12 .89
.15 .885
.18 .895
.21 .89
.27 .905
.30 .90
.33 .89
.38 .91
.44 .885
.55 .89
.56 .875
.02 .86
.05 .855
.08 .865
.11 .86
.14 .855
.17 .865
.20 .86
.23 .855
.26 .87
.29 .865
.32 .87
.35 .86
.40 .87
.42 .85
.52 .85
.57 .86
.69 .86
.85 .875
.87 .885
.91 .885
.89 .85
.86 .84
.04 .83
.07 .825
.10 .835
.13 .83
.16 .825
.19 .835
.22 .83
.25 .825
.28 .835
.31 .83
.34 .825
.37 .835
.40 .825
.44 .82
.47 .815
.50 .825
.54 .83
.60 .825
.62 .815
.72 .83
.76 .82
.06 .80
.09 .795
.12 .805
.15 .80
.18 .795
.21 .805
.24 .80
.27 .795
.30 .805
.33 .80
.36 .795
.39 .805
.42 .795
.45 .79
.48 .785
.52 .79
.57 .78
.67 .81
.69 .78
.96 .795
.85 .77
.07 .755
.10 .77
.13 .765
.16 .77
.19 .76
.22 .77
.25 .765
.28 .76
.31 .77
.34 .765
.37 .76
.40 .77
.43 .76
.46 .765
.49 .755
.53 .755
.56 .75
.59 .76
.63 .75
.66 .755
.70 .755
.81 .745
.89 .75
.10 .74
.13 .735
.16 .73
.19 .74
.22 .735
.25 .73
.28 .74
.31 .735
.34 .73
.37 .74
.40 .735
.43 .73
.46 .74
.49 .73
.52 .725
.56 .72
.59 .73
.62 .725
.65 .74
.68 .725
.71 .72
.75 .725
.80 .72
.85 .71
.93 .745
.94 .73
.06 .705
.09 .685
.12 .705
.15 .695
.18 .70
.21 .71
.24 .70
.27 .695
.30 .705
.33 .70
.36 .695
.39 .705
.42 .70
.45 .695
.48 .705
.51 .70
.54 .695
.60 .705
.63 .67
.66 .695
.69 .70
.73 .69
.78 .695
.81 .70
.90 .69
.95 .70
.96 .68
.13 .665
.16 .66
.19 .675
.22 .67
.25 .665
.28 .675
.31 .67
.34 .665
.37 .675
.40 .67
.43 .665
.46 .675
.49 .67
.52 .665
.56 .675
.59 .665
.62 .66
.65 .665
.68 .67
.71 .66
.75 .665
.79 .66
.85 .66
.91 .67
.14 .63
.17 .64
.20 .645
.23 .635
.26 .64
.29 .645
.32 .635
.35 .64
.38 .645
.42 .635
.45 .64
.48 .645
.51 .635
.54 .64
.57 .645
.60 .635
.64 .64
.67 .645
.70 .635
.74 .64
.77 .645
.80 .635
.85 .64
.90 .635
.93 .625
1 .64
.09 .605
.13 .60
.16 .61
.19 .60
.22 .605
.25 .61
.28 .60
.31 .605
.34 .61
.37 .60
.40 .605
.44 .61
.47 .60
.50 .605
.53 .61
.56 .60
.60 .605
.63 .61
.66 .60
.69 .605
.72 .61
.76 .60
.79 .605
.82 .61
.85 .60
.91 .605
.94 .59
.97 .59
1 .60
.15 .57
.18 .575
.22 .57
.25 .575
.28 .565
.32 .57
.35 .575
.38 .565
.42 .57
.45 .575
.48 .565
.52 .57
.55 .575
.58 .565
.62 .57
.65 .575
.68 .565
.72 .57
.75 .575
.78 .565
.82 .57
.85 .575
.88 .565
.92 .57
.95 .565
.98 .575
.035 .555
.07 .54
.09 .545
.13 .53
.17 .545
.20 .54
.23 .535
.27 .54
.30 .545
.34 .535
.37 .54
.40 .545
.44 .535
.47 .54
.50 .545
.54 .535
.57 .54
.60 .545
.64 .535
.67 .54
.70 .545
.74 .535
.77 .54
.80 .545
.84 .535
.87 .54
.90 .545
.94 .535
.97 .54
.045 .49
.07 .50
.12 .50
.15 .505
.18 .51
.22 .50
.25 .505
.29 .51
.32 .50
.35 .505
.39 .51
.42 .50
.45 .505
.49 .51
.52 .50
.55 .505
.59 .51
.62 .50
.65 .505
.69 .51
.72 .50
.75 .505
.79 .51
.82 .50
.85 .505
.89 .51
.92 .50
.95 .505
.99 .50
.055 .46
.13 .47
.17 .47
.20 .475
.24 .47
.27 .475
.31 .465
.34 .47
.37 .475
.41 .465
.44 .47
.47 .475
.51 .465
.54 .47
.57 .475
.61 .465
.64 .47
.67 .475
.71 .465
.74 .47
.77 .475
.81 .465
.84 .47
.87 .475
.91 .465
.94 .47
.97 .475
.14 .42
.18 .435
.21 .44
.25 .43
.28 .435
.32 .44
.35 .43
.38 .435
.42 .44
.45 .43
.48 .435
.52 .44
.55 .43
.58 .435
.62 .44
.65 .43
.68 .435
.72 .44
.75 .43
.78 .435
.82 .44
.85 .43
.88 .435
.92 .44
.95 .43
.98 .44
1 .435
.20 .40
.23 .405
.27 .40
.30 .395
.33 .405
.37 .40
.40 .395
.43 .405
.47 .40
.50 .395
.53 .405
.57 .40
.60 .395
.63 .405
.67 .40
.70 .395
.73 .405
.77 .40
.80 .395
.83 .405
.87 .40
.90 .395
.93 .405
.97 .40
1 .395
.15 .37
.16 .35
.22 .36
.25 .37
.29 .365
.32 .36
.36 .37
.39 .365
.43 .36
.46 .37
.49 .365
.53 .36
.56 .37
.59 .365
.63 .36
.66 .37
.69 .365
.73 .36
.76 .37
.79 .365
.83 .36
.86 .37
.89 .365
.93 .36
.96 .37
.99 .365
.07 .34
.18 .33
.17 .34
.23 .335
.25 .33
.33 .335
.36 .33
.39 .325
.42 .335
.45 .33
.48 .325
.52 .335
.55 .33
.58 .325
.62 .335
.65 .33
.68 .325
.72 .335
.75 .33
.78 .325
.82 .335
.85 .33
.88 .325
.92 .335
.95 .33
.98 .325
1 .335
.07 .29
.145 .295
.16 .28
.19 .295
.25 .30
.28 .29
.34 .295
.37 .285
.40 .29
.44 .30
.47 .285
.50 .29
.54 .295
.57 .285
.60 .29
.64 .30
.67 .285
.70 .29
.74 .295
.77 .285
.80 .29
.84 .295
.87 .285
.90 .29
.94 .295
.97 .285
1 .29
.25 .27
.27 .27
.33 .26
.36 .255
.40 .265
.43 .26
.46 .255
.50 .265
.53 .26
.56 .255
.60 .265
.63 .26
.66 .255
.70 .265
.73 .26
.76 .255
.80 .265
.83 .26
.86 .255
.90 .265
.93 .26
.96 .255
1 .26
.23 .21
.26 .215
.29 .20
.32 .195
.35 .225
.38 .22
.41 .215
.45 .225
.48 .22
.51 .215
.55 .225
.58 .22
.61 .215
.65 .225
.68 .22
.71 .215
.75 .225
.78 .22
.81 .215
.85 .225
.88 .22
.91 .215
.95 .225
.98 .22
1 .21
.175 .165
.23 .17
.32 .165
.35 .18
.38 .185
.42 .18
.45 .185
.49 .175
.52 .18
.55 .185
.59 .175
.62 .18
.65 .185
.69 .175
.72 .18
.75 .185
.79 .175
.82 .18
.85 .185
.89 .175
.92 .18
.95 .185
.99 .175
.22 .14
.33 .135
.36 .145
.40 .14
.43 .145
.46 .15
.50 .14
.53 .145
.56 .15
.60 .14
.63 .145
.66 .15
.70 .14
.73 .145
.76 .15
.80 .14
.83 .145
.86 .15
.90 .14
.93 .145
.96 .15
1 .14
.21 .09
.33 .10
.37 .105
.40 .11
.44 .10
.47 .105
.51 .11
.54 .10
.57 .105
.61 .11
.64 .10
.67 .105
.71 .11
.74 .10
.77 .105
.81 .11
.84 .10
.87 .105
.91 .11
.94 .10
.97 .105
1 .11
.33 .075
.37 .06
.40 .075
.44 .065
.47 .07
.52 .08
.55 .065
.59 .07
.62 .075
.65 .065
.68 .07
.72 .075
.75 .065
.78 .07
.82 .075
.85 .065
.88 .07
.92 .075
.95 .065
.98 .07
1 .08
.28 .04
.33 .04
.39 .045
.44 .035
.50 .04
.53 .03
.56 .04
.60 .035
.63 .03
.66 .04
.70 .035
.73 .03
.76 .04
.80 .035
.83 .03
.86 .04
.90 .035
.93 .03
.96 .04
1 .035
.38 .015
.46 .005
.52 .01
.54 .01
.57 .015
.60 .005
.63 .01
.66 .01
.69 .005
.72 .01
.75 0
.77 .01
.80 .005
.84 .01
.87 .005
.91 .01
.94 .005
.97 .01
1 .01
.035 .93
.08 .945
.13 .94
.17 .94
.06 .90
.10 .91
.15 .905
.19 .91
.08 .875
.12 .875
.16 .88
.20 .875
.10 .85
.14 .845
.18 .85
.08 .78
.15 .78
.23 .78
.30 .78
.38 .78
.44 .78
.12 .72
.20 .72
.27 .72
.35 .72
.43 .72
.50 .72
.15 .655
.21 .655
.29 .655
.37 .655
.45 .655
.53 .655
.60 .655
.68 .655
.17 .60
.24 .59
.33 .59
.42 .59
.51 .59
.58 .59
.65 .59
.74 .59
.80 .59
.15 .55
.22 .55
.32 .55
.42 .55
.49 .55
.56 .55
.63 .55
.72 .55
.79 .55
.86 .55
.92 .55
.20 .485
.27 .485
.35 .485
.43 .485
.50 .485
.57 .485
.65 .485
.73 .485
.81 .485
.88 .485
.93 .485
.22 .42
.30 .42
.37 .42
.46 .42
.54 .42
.60 .42
.70 .42
.77 .42
.84 .42
.90 .42
.96 .42
.27 .35
.34 .35
.42 .35
.50 .35
.58 .35
.65 .35
.74 .35
.81 .35
.88 .35
.95 .35
.31 .31
.42 .31
.49 .31
.56 .31
.62 .31
.72 .31
.79 .31
.86 .31
.92 .31
.99 .31
.34 .24
.42 .24
.48 .24
.58 .24
.65 .24
.72 .24
.78 .24
.85 .24
.92 .24
.98 .24
.37 .20
.44 .20
.53 .20
.60 .20
.67 .20
.73 .20
.83 .20
.90 .20
.97 .20
.39 .16
.48 .16
.55 .16
.62 .16
.70 .16
.78 .16
.85 .16
.91 .16
.98 .16
.35 .12
.42 .12
.50 .12
.59 .12
.66 .12
.72 .12
.79 .12
.89 .12
.96 .12
.42 .085
.49 .085
.57 .085
.64 .085
.70 .085
.80 .085
.88 .085
.94 .085
.54 .05
.62 .05
.68 .05
.78 .05
.85 .05
.92 .05
.98 .05
.58 .02
.65 .02
.71 .02
.82 .02
.89 .02
.96 .02
};
\end{axis}
% bottom
\begin{axis}[bot,at={(46.7pt,39.3pt)},anchor=south west,title={0 grados}]
\bgs
\addplot[fill=a2,draw=none] coordinates {(.01,.069)(.056,.161)(.114,.264)(.206,.414)(.323,.552)(.415,.678)(.497,.816)(.566,.959)(.740,.970)(.961,.984)(.991,.959)(.984,.747)(.965,.561)(.879,.522)(.763,.460)(.624,.368)(.508,.276)(.392,.172)(.276,.103)(.160,.046)(.079,.011)(.032,.007)(.009,.046)} --cycle;
\addplot[sm] coordinates {(.01,.069)(.056,.161)(.114,.264)(.206,.414)(.323,.552)(.415,.678)(.497,.816)(.566,.959)};
\addplot[ct] coordinates {(.566,.959)(.740,.970)(.961,.984)(.991,.959)(.984,.747)(.965,.561)};
\addplot[sm] coordinates {(.965,.561)(.879,.522)(.763,.460)(.624,.368)(.508,.276)(.392,.172)(.276,.103)(.160,.046)(.079,.011)(.032,.007)(.009,.046)(.01,.069)};
\addplot[ct,fill=a3] coordinates {(.828,.959)(.845,.903)(.879,.857)(.926,.832)(.968,.821)(.972,.966)} --cycle;
\addplot[el,fill=a3] coordinates {(.03,.05)(.056,.138)(.114,.230)(.183,.287)(.258,.308)(.299,.287)(.311,.230)(.288,.172)(.230,.115)(.148,.057)(.079,.030)};
\addplot[el,fill=a4] coordinates {(.03,.05)(.056,.092)(.09,.161)(.148,.191)(.188,.177)(.188,.126)(.137,.076)(.079,.039)};
\addplot[el,fill=a5] coordinates {(.03,.05)(.044,.08)(.079,.126)(.114,.138)(.142,.122)(.125,.08)(.079,.046)};
\addplot[el,fill=a6] coordinates {(.03,.05)(.049,.08)(.067,.099)(.095,.103)(.107,.08)(.074,.05)};
\addplot[el,fill=a8] coordinates {(.035,.05)(.05,.07)(.07,.085)(.088,.08)(.088,.065)(.065,.05)};
\addplot[fill=a14,draw=none] coordinates {(.06,.075)(.075,.075)(.075,.06)(.062,.058)} --cycle;
\addplot[fill=black,draw=black] coordinates {(.004,.065)(.012,.035)(.035,.012)(.06,.015)(.072,.03)(.05,.04)(.035,.06)(.02,.075)(.008,.078)} --cycle;
\end{axis}
\cbar{226}
\begin{axis}[bot,at={(363.7pt,39.3pt)},anchor=south west,title={90 grados}]
\bgs
\addplot[fill=a2,draw=none] coordinates {(.99,.069)(.944,.161)(.886,.264)(.794,.414)(.677,.552)(.585,.678)(.503,.816)(.434,.959)(.26,.97)(.039,.984)(.009,.959)(.016,.747)(.035,.561)(.121,.522)(.237,.46)(.376,.368)(.492,.276)(.608,.172)(.724,.103)(.84,.046)(.921,.011)(.968,.007)(.991,.046)} --cycle;
\addplot[sm] coordinates {(.99,.069)(.944,.161)(.886,.264)(.794,.414)(.677,.552)(.585,.678)(.503,.816)(.434,.959)};
\addplot[ct] coordinates {(.434,.959)(.26,.97)(.039,.984)(.009,.959)(.016,.747)(.035,.561)};
\addplot[sm] coordinates {(.035,.561)(.121,.522)(.237,.46)(.376,.368)(.492,.276)(.608,.172)(.724,.103)(.84,.046)(.921,.011)(.968,.007)(.991,.046)(.99,.069)};
\addplot[ct,fill=a3] coordinates {(.172,.959)(.155,.903)(.121,.857)(.074,.832)(.032,.821)(.028,.966)} --cycle;
\addplot[el,fill=a3] coordinates {(.97,.05)(.944,.138)(.886,.23)(.817,.287)(.742,.308)(.701,.287)(.689,.23)(.712,.172)(.77,.115)(.852,.057)(.921,.03)};
\addplot[el,fill=a4] coordinates {(.97,.05)(.944,.092)(.91,.161)(.852,.191)(.812,.177)(.812,.126)(.863,.076)(.921,.039)};
\addplot[el,fill=a5] coordinates {(.97,.05)(.956,.08)(.921,.126)(.886,.138)(.858,.122)(.875,.08)(.921,.046)};
\addplot[el,fill=a6] coordinates {(.97,.05)(.951,.08)(.933,.099)(.905,.103)(.893,.08)(.926,.05)};
\addplot[el,fill=a8] coordinates {(.965,.05)(.95,.07)(.93,.085)(.912,.08)(.912,.065)(.935,.05)};
\addplot[fill=a14,draw=none] coordinates {(.94,.075)(.925,.075)(.925,.06)(.938,.058)} --cycle;
\addplot[fill=black,draw=black] coordinates {(.996,.065)(.988,.035)(.965,.012)(.94,.015)(.928,.03)(.95,.04)(.965,.06)(.98,.075)(.992,.078)} --cycle;
\end{axis}
\cbar{543.3}
\begin{axis}[bot,at={(680.7pt,39.3pt)},anchor=south west,title={180 grados}]
\bgs
\addplot[fill=a2,draw=none] coordinates {(.99,.931)(.944,.839)(.886,.736)(.794,.586)(.677,.448)(.585,.322)(.503,.184)(.434,.041)(.26,.03)(.039,.016)(.009,.041)(.016,.253)(.035,.439)(.121,.478)(.237,.54)(.376,.632)(.492,.724)(.608,.828)(.724,.897)(.84,.954)(.921,.989)(.968,.993)(.991,.954)} --cycle;
\addplot[sm] coordinates {(.99,.931)(.944,.839)(.886,.736)(.794,.586)(.677,.448)(.585,.322)(.503,.184)(.434,.041)};
\addplot[ct] coordinates {(.434,.041)(.26,.03)(.039,.016)(.009,.041)(.016,.253)(.035,.439)};
\addplot[sm] coordinates {(.035,.439)(.121,.478)(.237,.54)(.376,.632)(.492,.724)(.608,.828)(.724,.897)(.84,.954)(.921,.989)(.968,.993)(.991,.954)(.99,.931)};
\addplot[ct,fill=a3] coordinates {(.172,.041)(.155,.097)(.121,.143)(.074,.168)(.032,.179)(.028,.034)} --cycle;
\addplot[el,fill=a3] coordinates {(.97,.95)(.944,.862)(.886,.77)(.817,.713)(.742,.692)(.701,.713)(.689,.77)(.712,.828)(.77,.885)(.852,.943)(.921,.97)};
\addplot[el,fill=a4] coordinates {(.97,.95)(.944,.908)(.91,.839)(.852,.809)(.812,.823)(.812,.874)(.863,.924)(.921,.961)};
\addplot[el,fill=a5] coordinates {(.97,.95)(.956,.92)(.921,.874)(.886,.862)(.858,.878)(.875,.92)(.921,.954)};
\addplot[el,fill=a6] coordinates {(.97,.95)(.951,.92)(.933,.901)(.905,.897)(.893,.92)(.926,.95)};
\addplot[el,fill=a8] coordinates {(.965,.95)(.95,.93)(.93,.915)(.912,.92)(.912,.935)(.935,.95)};
\addplot[fill=a14,draw=none] coordinates {(.94,.925)(.925,.925)(.925,.94)(.938,.942)} --cycle;
\addplot[fill=black,draw=black] coordinates {(.996,.935)(.988,.965)(.965,.988)(.94,.985)(.928,.97)(.95,.96)(.965,.94)(.98,.925)(.992,.922)} --cycle;
\end{axis}
\cbar{860}
\begin{axis}[bot,at={(997.7pt,39.3pt)},anchor=south west,title={270 grados}]
\bgs
\addplot[fill=a2,draw=none] coordinates {(.01,.931)(.056,.839)(.114,.736)(.206,.586)(.323,.448)(.415,.322)(.497,.184)(.566,.041)(.74,.03)(.961,.016)(.991,.041)(.984,.253)(.965,.439)(.879,.478)(.763,.54)(.624,.632)(.508,.724)(.392,.828)(.276,.897)(.16,.954)(.079,.989)(.032,.993)(.009,.954)} --cycle;
\addplot[sm] coordinates {(.01,.931)(.056,.839)(.114,.736)(.206,.586)(.323,.448)(.415,.322)(.497,.184)(.566,.041)};
\addplot[ct] coordinates {(.566,.041)(.74,.03)(.961,.016)(.991,.041)(.984,.253)(.965,.439)};
\addplot[sm] coordinates {(.965,.439)(.879,.478)(.763,.54)(.624,.632)(.508,.724)(.392,.828)(.276,.897)(.16,.954)(.079,.989)(.032,.993)(.009,.954)(.01,.931)};
\addplot[ct,fill=a3] coordinates {(.828,.041)(.845,.097)(.879,.143)(.926,.168)(.968,.179)(.972,.034)} --cycle;
\addplot[el,fill=a3] coordinates {(.03,.95)(.056,.862)(.114,.77)(.183,.713)(.258,.692)(.299,.713)(.311,.77)(.288,.828)(.23,.885)(.148,.943)(.079,.97)};
\addplot[el,fill=a4] coordinates {(.03,.95)(.056,.908)(.09,.839)(.148,.809)(.188,.823)(.188,.874)(.137,.924)(.079,.961)};
\addplot[el,fill=a5] coordinates {(.03,.95)(.044,.92)(.079,.874)(.114,.862)(.142,.878)(.125,.92)(.079,.954)};
\addplot[el,fill=a6] coordinates {(.03,.95)(.049,.92)(.067,.901)(.095,.897)(.107,.92)(.074,.95)};
\addplot[el,fill=a8] coordinates {(.035,.95)(.05,.93)(.07,.915)(.088,.92)(.088,.935)(.065,.95)};
\addplot[fill=a14,draw=none] coordinates {(.06,.925)(.075,.925)(.075,.94)(.062,.942)} --cycle;
\addplot[fill=black,draw=black] coordinates {(.004,.935)(.012,.965)(.035,.988)(.06,.985)(.072,.97)(.05,.96)(.035,.94)(.02,.925)(.008,.922)} --cycle;
\end{axis}
\cbar{1177}
\end{tikzpicture}
\end{document}
